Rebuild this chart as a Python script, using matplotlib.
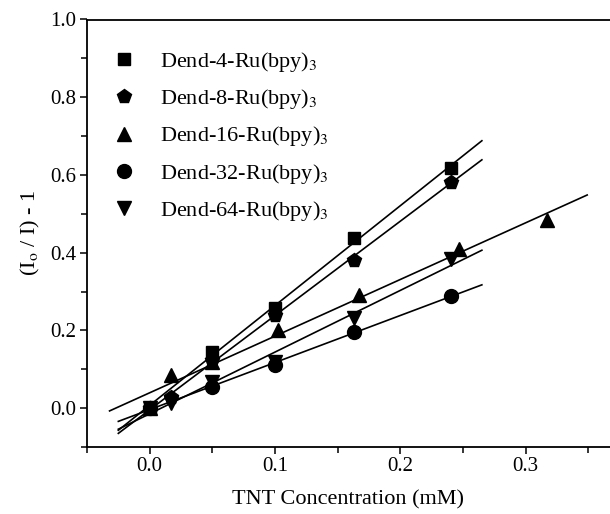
import numpy as np
import matplotlib
matplotlib.use("Agg")
import matplotlib.pyplot as plt
from matplotlib.ticker import MultipleLocator

plt.rcParams['font.family'] = ['Liberation Serif', 'DejaVu Serif']
plt.rcParams['mathtext.fontset'] = 'stix'

labels = ["Dend-4-Ru(bpy)$_3$", "Dend-8-Ru(bpy)$_3$", "Dend-16-Ru(bpy)$_3$",
          "Dend-32-Ru(bpy)$_3$", "Dend-64-Ru(bpy)$_3$"]
markers = ["s", "p", "^", "o", "v"]

x_d4 = [0.0, 0.05, 0.10, 0.163, 0.240]
y_d4 = [0.0, 0.145, 0.258, 0.437, 0.617]

x_d8 = [0.0, 0.017, 0.05, 0.10, 0.163, 0.240]
y_d8 = [0.0, 0.028, 0.125, 0.240, 0.382, 0.583]

x_d16 = [0.0, 0.017, 0.05, 0.102, 0.167, 0.247, 0.317]
y_d16 = [0.0, 0.085, 0.120, 0.200, 0.290, 0.410, 0.484]

x_d32 = [0.0, 0.05, 0.10, 0.163, 0.240]
y_d32 = [0.0, 0.055, 0.112, 0.196, 0.288]

x_d64 = [0.0, 0.017, 0.05, 0.10, 0.163, 0.240]
y_d64 = [0.0, 0.014, 0.068, 0.120, 0.231, 0.385]

fit_start = [-0.025, -0.025, -0.032, -0.025, -0.025]
fit_end = [0.265, 0.265, 0.349, 0.265, 0.265]

series = [(x_d4, y_d4), (x_d8, y_d8), (x_d16, y_d16), (x_d32, y_d32), (x_d64, y_d64)]

fig = plt.figure(figsize=(6.10, 5.14), dpi=100)
ax = fig.add_axes([87/610, 1-447/514, 1-87/610, (447-19.5)/514])

for (xs, ys), m, lab, x0, x1 in zip(series, markers, labels, fit_start, fit_end):
    k, b = np.polyfit(xs, ys, 1)
    xf = np.array([x0, x1])
    ax.plot(xf, k*xf + b, color='black', lw=1.2)
    ms = 9 if m == "s" else 10
    ax.plot(xs, ys, linestyle='none', marker=m, color='black', ms=ms, label=lab)

ax.set_xlim(-0.05, 0.3672)
ax.set_ylim(-0.1, 1.0)
ax.xaxis.set_major_locator(MultipleLocator(0.1))
ax.xaxis.set_minor_locator(MultipleLocator(0.05))
ax.yaxis.set_major_locator(MultipleLocator(0.2))
ax.yaxis.set_minor_locator(MultipleLocator(0.1))
ax.tick_params(which='both', direction='out', top=False, right=False, labelsize=15, width=1.1)
ax.tick_params(which='major', length=5, pad=2.5)
ax.tick_params(which='minor', length=4)
ax.spines['right'].set_visible(False)
for s in ('left', 'bottom', 'top'):
    ax.spines[s].set_linewidth(1.3)

ax.set_xlabel("TNT Concentration (mM)", fontsize=16, labelpad=10)
ax.set_ylabel(r"(I$_\mathrm{o}$ / I) - 1", fontsize=16, labelpad=6)

leg = ax.legend(loc='upper left', bbox_to_anchor=(0.032, 0.95), frameon=False,
                fontsize=16, handlelength=1.0, handletextpad=1.15,
                labelspacing=0.6, borderaxespad=0.0)

fig.savefig("out.png", dpi=100)
